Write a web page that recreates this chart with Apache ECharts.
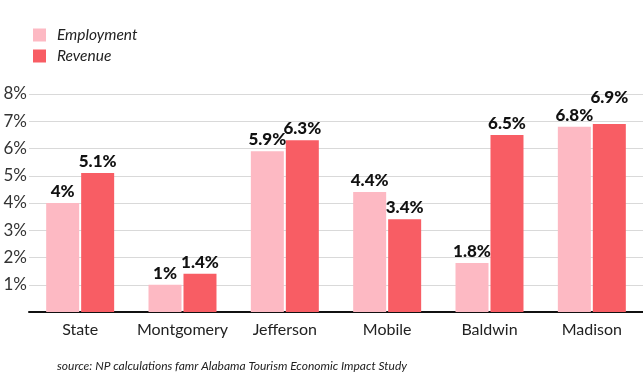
<!DOCTYPE html>
<html><head><meta charset="utf-8">
<script src="https://cdn.jsdelivr.net/npm/echarts@6/dist/echarts.min.js"></script>
<style>html,body{margin:0;padding:0;background:#fff}#c{width:643px;height:387px}</style>
</head><body><div id="c"></div>
<script>
const categories = ['State','Montgomery','Jefferson','Mobile','Baldwin','Madison'];
const employment = [4, 1, 5.9, 4.4, 1.8, 6.8];
const revenue = [5.1, 1.4, 6.3, 3.4, 6.5, 6.9];
const yTicks = [0,1,2,3,4,5,6,7,8];
const seriesNames = ['Employment','Revenue'];
const sourceText = 'source: NP calculations famr Alabama Tourism Economic Impact Study';

const chart = echarts.init(document.getElementById('c'), null, {renderer:'canvas'});
const lbl = {show:true, position:'top', distance:3, color:'#111', fontWeight:900, fontSize:17, fontFamily:'Lato', formatter: p => p.value + '%'};
chart.setOption({
  animation:false,
  textStyle:{fontFamily:'Lato'},
  legend:{orient:'vertical', left:33, top:27, padding:0, itemWidth:13, itemHeight:13, itemGap:5,
    icon:'rect', data:seriesNames,
    textStyle:{fontStyle:'italic', fontSize:15.5, color:'#222', fontFamily:'Lato', padding:[0,0,0,6]}},
  grid:{left:29, right:0, top:94, bottom:75},
  xAxis:{type:'category', data:categories,
    axisLine:{lineStyle:{color:'#111', width:2}}, axisTick:{show:false},
    axisLabel:{interval:0, fontSize:16, color:'#222', margin:10, fontFamily:'Lato'}},
  yAxis:{type:'value', min:yTicks[0], max:yTicks[yTicks.length-1], interval:1,
    axisLine:{show:false}, axisTick:{show:false},
    splitLine:{lineStyle:{color:'#d9d9d9', width:1}},
    axisLabel:{fontSize:17, color:'#333', margin:2, fontFamily:'Lato',
      formatter: v => v === 0 ? '' : v + '%'}},
  series:[
    {name:seriesNames[0], type:'bar', data:employment, barWidth:33, barGap:'6%',
      itemStyle:{color:'#fdb9c3'}, label:lbl},
    {name:seriesNames[1], type:'bar', barWidth:33,
      data: revenue.map((v,i) => i === 5 ? {value:v, label:{distance:18}} : v),
      itemStyle:{color:'#f85d64'}, label:lbl}
  ],
  graphic:[{type:'text', left:57, top:360, style:{text:sourceText, fontSize:12, fontStyle:'italic', fill:'#222', fontFamily:'Lato'}}]
});
</script></body></html>
